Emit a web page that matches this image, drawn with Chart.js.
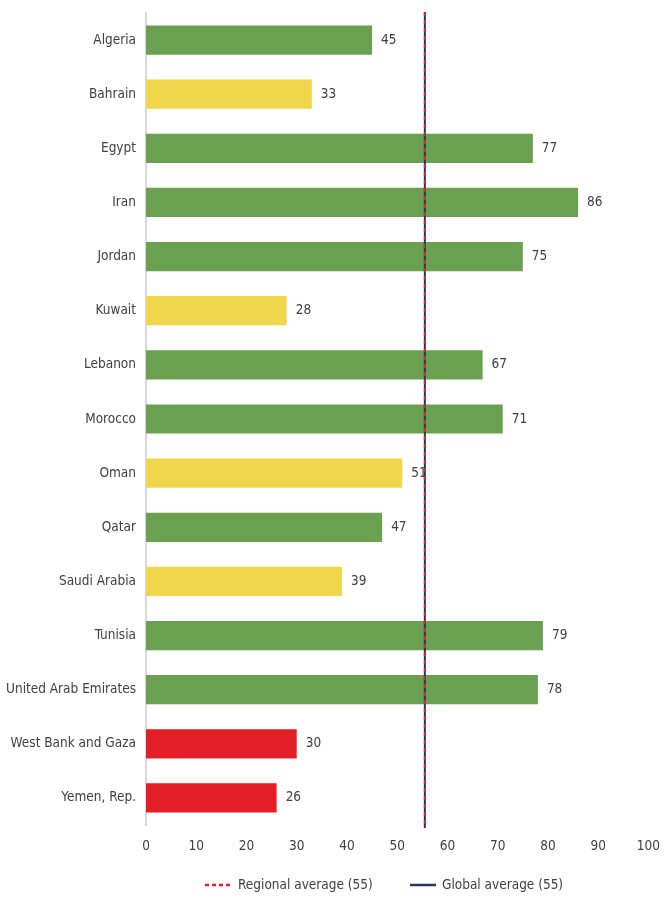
<!DOCTYPE html>
<html>
<head>
<meta charset="utf-8">
<script src="https://cdn.jsdelivr.net/npm/chart.js@4"></script>
<style>
  body { margin: 0; background: #fff; }
  #wrap { width: 665px; height: 897px; position: relative; }
</style>
</head>
<body>
<div id="wrap"><canvas id="chart"></canvas></div>
<script>
// data
const countries = ['Algeria', 'Bahrain', 'Egypt', 'Iran', 'Jordan', 'Kuwait', 'Lebanon', 'Morocco',
  'Oman', 'Qatar', 'Saudi Arabia', 'Tunisia', 'United Arab Emirates', 'West Bank and Gaza', 'Yemen, Rep.'];
const scores = [45, 33, 77, 86, 75, 28, 67, 71, 51, 47, 39, 79, 78, 30, 26];
// g = green, y = yellow, r = red
const groups = ['g', 'y', 'g', 'g', 'g', 'y', 'g', 'g', 'y', 'g', 'y', 'g', 'g', 'r', 'r'];
const xTicks = [0, 10, 20, 30, 40, 50, 60, 70, 80, 90, 100];
const regionalAvg = 55.5;
const globalAvg = 55.5;
const legendLabels = ['Regional average (55)', 'Global average (55)'];

const groupColors = { g: '#69a151', y: '#efd64a', r: '#e31e26' };
const FONT = '"Liberation Sans Narrow", "DejaVu Sans Condensed", sans-serif';
const FSIZE = 13.5;

// value labels at end of bars
const valueLabels = {
  id: 'valueLabels',
  afterDatasetsDraw(chart) {
    const ctx = chart.ctx;
    const meta = chart.getDatasetMeta(0);
    ctx.save();
    ctx.font = FSIZE + 'px ' + FONT;
    ctx.fillStyle = '#404040';
    ctx.textAlign = 'left';
    ctx.textBaseline = 'middle';
    meta.data.forEach((bar, i) => {
      ctx.fillText(String(scores[i]), bar.x + 9, bar.y);
    });
    ctx.restore();
  }
};

// average lines + legend
const avgLines = {
  id: 'avgLines',
  afterDatasetsDraw(chart) {
    const ctx = chart.ctx;
    const area = chart.chartArea;
    const xs = chart.scales.x;
    ctx.save();
    // global: solid navy
    let x = xs.getPixelForValue(globalAvg);
    ctx.strokeStyle = '#1f3864';
    ctx.lineWidth = 2;
    ctx.beginPath();
    ctx.moveTo(x, area.top - 1);
    ctx.lineTo(x, area.bottom + 3);
    ctx.stroke();
    // regional: dashed red
    x = xs.getPixelForValue(regionalAvg);
    ctx.strokeStyle = '#e31e26';
    ctx.setLineDash([4, 4]);
    ctx.beginPath();
    ctx.moveTo(x, area.top - 1);
    ctx.lineTo(x, area.bottom + 3);
    ctx.stroke();
    ctx.setLineDash([]);

    // legend
    const ly = 885;
    ctx.font = FSIZE + 'px ' + FONT;
    ctx.fillStyle = '#404040';
    ctx.textBaseline = 'middle';
    ctx.textAlign = 'left';
    let lx = area.left + 59;
    ctx.strokeStyle = '#e31e26';
    ctx.lineWidth = 2.5;
    ctx.setLineDash([4, 3]);
    ctx.beginPath();
    ctx.moveTo(lx, ly);
    ctx.lineTo(lx + 26, ly);
    ctx.stroke();
    ctx.setLineDash([]);
    ctx.fillText(legendLabels[0], lx + 33, ly);
    lx = area.left + 264;
    ctx.strokeStyle = '#1f3864';
    ctx.beginPath();
    ctx.moveTo(lx, ly);
    ctx.lineTo(lx + 26, ly);
    ctx.stroke();
    ctx.fillText(legendLabels[1], lx + 32, ly);
    ctx.restore();
  }
};

new Chart(document.getElementById('chart'), {
  type: 'bar',
  data: {
    labels: countries,
    datasets: [{
      data: scores,
      backgroundColor: groups.map(g => groupColors[g]),
      categoryPercentage: 1,
      barPercentage: 0.54
    }]
  },
  options: {
    indexAxis: 'y',
    responsive: true,
    maintainAspectRatio: false,
    animation: false,
    layout: { padding: { top: 13, right: 11, bottom: 45, left: 0 } },
    plugins: {
      legend: { display: false },
      tooltip: { enabled: false }
    },
    scales: {
      x: {
        min: 0,
        max: 100,
        afterBuildTicks(scale) { scale.ticks = xTicks.map(v => ({ value: v })); },
        grid: { display: false },
        border: { display: false },
        ticks: { color: '#404040', font: { family: FONT, size: FSIZE }, padding: 5 },
        afterFit(scale) { scale.height = 27; }
      },
      y: {
        grid: { display: false, drawTicks: false },
        border: { display: true, color: '#d9d9d9', width: 2 },
        ticks: { color: '#404040', font: { family: FONT, size: FSIZE }, padding: 10 },
        afterFit(scale) {
          scale.width = 146;
          scale.paddingTop = 0;
          scale.paddingBottom = 0;
        }
      }
    }
  },
  plugins: [valueLabels, avgLines]
});
</script>
</body>
</html>
